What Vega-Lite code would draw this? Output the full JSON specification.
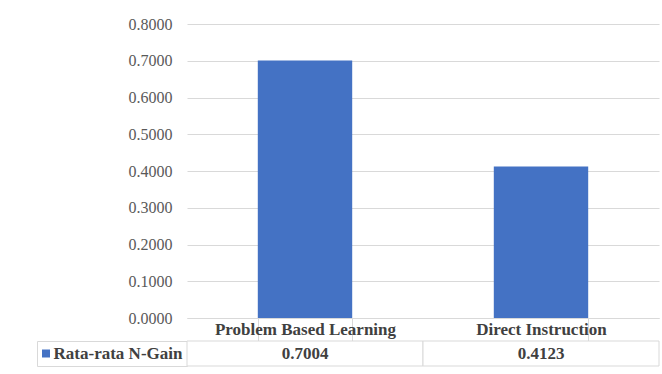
{
  "$schema": "https://vega.github.io/schema/vega-lite/v6.json",
  "padding": {"left": 36, "top": 16, "right": 4, "bottom": 0},
  "background": "white",
  "config": {"font": "Times New Roman, Liberation Serif, serif", "view": {"stroke": null}},
  "datasets": {
    "gain": [
      {"kategori": "Problem Based Learning", "nilai": 0.7004, "seri": "Rata-rata N-Gain"},
      {"kategori": "Direct Instruction", "nilai": 0.4123, "seri": "Rata-rata N-Gain"}
    ],
    "legenda": [{"seri": "Rata-rata N-Gain"}],
    "kosong": []
  },
  "columns": 2,
  "bounds": "flush",
  "align": "each",
  "spacing": {"row": 23, "column": 0},
  "concat": [
    {
      "width": 150,
      "height": 294,
      "data": {"name": "kosong"},
      "mark": "rule",
      "encoding": {}
    },
    {
      "width": 472,
      "height": 294,
      "data": {"name": "gain"},
      "mark": {"type": "bar", "color": "#4472C4"},
      "encoding": {
        "x": {
          "field": "kategori", "type": "nominal", "sort": null,
          "scale": {"paddingInner": 0.6, "paddingOuter": 0.3},
          "axis": {
            "title": null, "labelAngle": 0, "labelFontWeight": "bold",
            "labelFontSize": 17, "labelColor": "#404040", "labelBaseline": "middle", "labelPadding": -11.5,
            "tickBand": "extent", "tickSize": 23, "tickColor": "#d9d9d9", "domainColor": "#d9d9d9", "labelLimit": 0
          }
        },
        "y": {
          "field": "nilai", "type": "quantitative",
          "scale": {"domain": [0, 0.8]},
          "axis": {
            "title": null, "values": [0, 0.1, 0.2, 0.3, 0.4, 0.5, 0.6, 0.7, 0.8], "format": ".4f",
            "grid": true, "gridColor": "#d9d9d9", "domain": false, "ticks": false, "labelPadding": 15,
            "labelFontSize": 16, "labelColor": "#595959"
          }
        }
      }
    },
    {
      "width": 150,
      "height": 25,
      "data": {"name": "legenda"},
      "view": {"stroke": "#d9d9d9"},
      "layer": [
        {
          "mark": {"type": "text", "fontWeight": "bold", "fontSize": 17, "color": "#404040", "dx": 6},
          "encoding": {
            "x": {"field": "seri", "type": "nominal", "axis": null},
            "text": {"field": "seri"}
          }
        },
        {
          "mark": {"type": "square", "color": "#4472C4", "opacity": 1, "size": 64, "xOffset": -66},
          "encoding": {
            "x": {"field": "seri", "type": "nominal", "axis": null}
          }
        }
      ]
    },
    {
      "width": 472,
      "height": 25,
      "data": {"name": "gain"},
      "layer": [
        {
          "mark": {"type": "rect", "fill": "white", "stroke": "#d9d9d9", "strokeWidth": 1},
          "encoding": {
            "x": {"field": "kategori", "type": "nominal", "sort": null, "axis": null, "scale": {"paddingInner": 0, "paddingOuter": 0}}
          }
        },
        {
          "mark": {"type": "text", "fontWeight": "bold", "fontSize": 17, "color": "#404040"},
          "encoding": {
            "x": {"field": "kategori", "type": "nominal", "sort": null, "axis": null, "scale": {"paddingInner": 0, "paddingOuter": 0}},
            "text": {"field": "nilai", "type": "quantitative", "format": ".4f"}
          }
        }
      ]
    }
  ]
}
